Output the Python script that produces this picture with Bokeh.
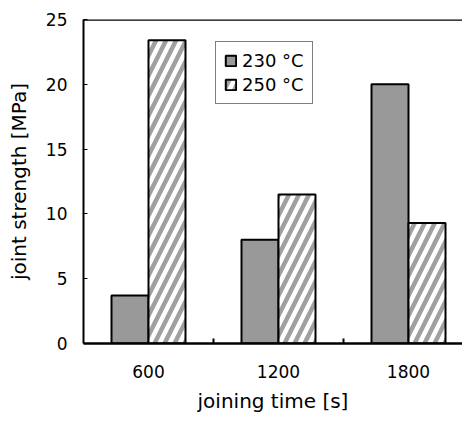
from bokeh.plotting import figure
from bokeh.models import (ColumnDataSource, FixedTicker, Span, Legend, LegendItem,
                          Range1d)
from bokeh.transform import dodge
from bokeh.embed import file_html
from bokeh.resources import INLINE

categories = ["600", "1200", "1800"]
strength_230 = [3.7, 8.0, 20.0]
strength_250 = [23.4, 11.5, 9.3]
y_ticks = [0, 5, 10, 15, 20, 25]

FONT = "DejaVu Sans"

idx = list(range(len(categories)))
src = ColumnDataSource(dict(x=idx, s230=strength_230, s250=strength_250))

p = figure(width=462, height=415, output_backend="svg", toolbar_location=None,
           x_range=Range1d(-0.5, -0.5 + 379 / 130), y_range=Range1d(0, 25),
           min_border_left=83, min_border_top=19, min_border_bottom=71,
           min_border_right=0)
p.outline_line_color = None
p.grid.visible = False
p.background_fill_color = "white"
p.border_fill_color = "white"

bw = 37 / 130
r1 = p.vbar(x=dodge("x", -bw / 2), top="s230", width=bw, source=src,
            fill_color="#999999", line_color="black", line_width=2)
r2 = p.vbar(x=dodge("x", bw / 2), top="s250", width=bw, source=src,
            fill_color="white", line_color="black", line_width=2,
            hatch_pattern="/", hatch_color="#a0a0a0", hatch_weight=4.5,
            hatch_scale=20)

p.add_layout(Span(location=25, dimension="width", line_color="black",
                  line_width=2.5))

# x axis
xa = p.xaxis[0]
xa.ticker = FixedTicker(ticks=idx, minor_ticks=[i + 0.5 for i in idx[:-1]])
xa.major_label_overrides = {i: c for i, c in zip(idx, categories)}
xa.major_tick_line_color = None
xa.minor_tick_in = 5
xa.minor_tick_out = 0
xa.minor_tick_line_width = 2
xa.minor_tick_line_color = "black"
xa.axis_line_width = 2.5
xa.axis_line_color = "black"
xa.major_label_standoff = 15
xa.major_label_text_font = FONT
xa.major_label_text_font_size = "17px"
xa.major_label_text_color = "black"
xa.axis_label = "joining time [s]"
xa.axis_label_text_font = FONT
xa.axis_label_text_font_size = "20px"
xa.axis_label_text_font_style = "normal"
xa.axis_label_text_color = "black"
xa.axis_label_standoff = 8

ya = p.yaxis[0]
ya.ticker = FixedTicker(ticks=y_ticks)
ya.minor_tick_line_color = None
ya.major_tick_in = 4
ya.major_tick_out = 0
ya.major_tick_line_color = "black"
ya.major_tick_line_width = 1
ya.axis_line_width = 2
ya.axis_line_color = "black"
ya.major_label_standoff = 16
ya.major_label_text_font = FONT
ya.major_label_text_font_size = "17px"
ya.major_label_text_color = "black"
ya.axis_label = "joint strength [MPa]"
ya.axis_label_text_font = FONT
ya.axis_label_text_font_size = "20px"
ya.axis_label_text_font_style = "normal"
ya.axis_label_text_color = "black"
ya.axis_label_standoff = 12

legend = Legend(items=[LegendItem(label="230 °C", renderers=[r1]),
                       LegendItem(label="250 °C", renderers=[r2])],
                location=(132, 239), orientation="vertical",
                glyph_width=13, glyph_height=13, label_standoff=5,
                padding=8, spacing=3, label_height=20,
                label_text_font=FONT, label_text_font_size="18px",
                label_text_color="black",
                border_line_color="black", border_line_width=1,
                background_fill_color="white", background_fill_alpha=1)
p.add_layout(legend, "center")

open("out.html", "w").write(file_html(p, INLINE))
